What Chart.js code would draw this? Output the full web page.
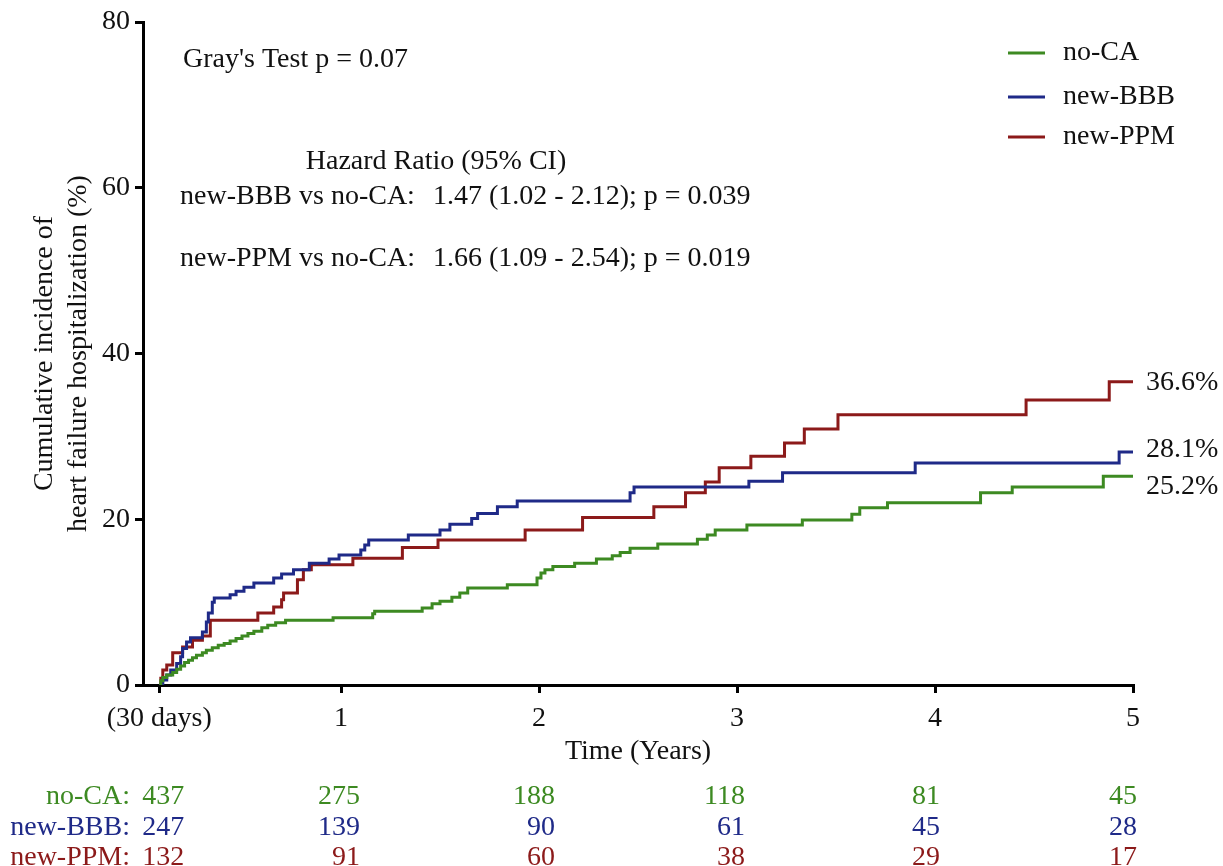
<!DOCTYPE html>
<html>
<head>
<meta charset="utf-8">
<script src="https://cdn.jsdelivr.net/npm/chart.js@4.4.1/dist/chart.umd.min.js"></script>
<style>
  html, body { margin: 0; padding: 0; background: #fff; }
  #wrap { width: 1223px; height: 866px; position: relative; }
</style>
</head>
<body>
<div id="wrap"><canvas id="c" width="1223" height="866"></canvas></div>
<script>
// ---------- DATA ----------
const seriesNames = ['no-CA', 'new-BBB', 'new-PPM'];
const xTickValues = [30 / 365, 1, 2, 3, 4, 5];
const xTickLabels = ['(30 days)', '1', '2', '3', '4', '5'];
const yTickValues = [0, 20, 40, 60, 80];

// time (years), cumulative incidence (%)
const noCA = [
  [0.082,0],[0.09,0.5],[0.10,0.9],[0.12,1.2],[0.15,1.5],[0.17,1.9],[0.19,2.3],[0.21,2.7],[0.23,3.0],
  [0.25,3.3],[0.27,3.6],[0.30,3.9],[0.32,4.2],[0.35,4.5],[0.38,4.8],[0.41,5.0],[0.44,5.3],[0.47,5.6],
  [0.50,5.9],[0.53,6.2],[0.56,6.5],[0.60,6.9],[0.63,7.2],[0.67,7.5],[0.72,7.8],[0.96,8.1],[1.16,8.6],
  [1.17,8.9],[1.41,9.3],[1.46,9.8],[1.50,10.1],[1.56,10.6],[1.60,11.1],[1.64,11.7],[1.84,12.1],
  [1.99,12.9],[2.01,13.5],[2.03,13.9],[2.07,14.3],[2.18,14.7],[2.29,15.2],[2.37,15.6],[2.41,16.0],
  [2.46,16.5],[2.60,17.0],[2.80,17.6],[2.85,18.1],[2.89,18.7],[3.05,19.3],[3.33,19.9],[3.58,20.6],
  [3.62,21.4],[3.76,22.0],[4.23,23.2],[4.39,23.9],[4.85,25.2],[5.0,25.2]
];
const newBBB = [
  [0.082,0],[0.10,0.6],[0.12,1.2],[0.14,1.8],[0.17,2.6],[0.19,3.4],[0.20,4.4],[0.22,5.2],[0.24,5.7],
  [0.30,6.4],[0.32,7.6],[0.33,8.7],[0.35,10.0],[0.36,10.5],[0.44,10.9],[0.47,11.3],[0.51,11.8],
  [0.56,12.3],[0.66,12.9],[0.70,13.4],[0.76,13.9],[0.84,14.7],[0.94,15.2],[0.99,15.7],[1.10,16.3],
  [1.12,16.9],[1.14,17.5],[1.34,18.1],[1.50,18.7],[1.55,19.4],[1.66,20.1],[1.69,20.7],[1.79,21.5],
  [1.89,22.2],[2.46,23.2],[2.48,23.9],[3.06,24.6],[3.23,25.6],[3.90,26.8],[4.93,28.1],[5.0,28.1]
];
const newPPM = [
  [0.082,0],[0.09,0.8],[0.10,1.8],[0.12,2.4],[0.15,3.9],[0.20,4.6],[0.25,5.4],[0.30,5.9],[0.34,7.8],
  [0.58,8.7],[0.66,9.4],[0.70,10.3],[0.71,11.1],[0.78,12.7],[0.81,13.9],[0.85,14.5],[1.06,15.3],
  [1.31,16.6],[1.49,17.5],[1.93,18.7],[2.22,20.2],[2.58,21.5],[2.74,23.2],[2.84,24.5],[2.91,26.2],
  [3.07,27.6],[3.24,29.2],[3.34,30.9],[3.51,32.6],[4.46,34.4],[4.88,36.6],[5.0,36.6]
];
const endLabels = ['25.2%', '28.1%', '36.6%'];

// numbers at risk
const riskNoCA = [437, 275, 188, 118, 81, 45];
const riskBBB = [247, 139, 90, 61, 45, 28];
const riskPPM = [132, 91, 60, 38, 29, 17];

const grayText = "Gray's Test p = 0.07";
const hrTitle = 'Hazard Ratio (95% CI)';
const hrLabels = ['new-BBB vs no-CA:', 'new-PPM vs no-CA:'];
const hrValues = ['1.47 (1.02 - 2.12); p = 0.039', '1.66 (1.09 - 2.54); p = 0.019'];

// ---------- STYLE ----------
const colors = ['#3d8a22', '#1f2a88', '#8c1a1a'];
const FONT = "'Liberation Serif', 'Times New Roman', serif";
const FS = 28;
const TXT = '#111';

const toXY = arr => arr.map(p => ({ x: p[0], y: p[1] }));
const seriesData = [noCA, newBBB, newPPM];
const riskRows = [riskNoCA, riskBBB, riskPPM];

const overlay = {
  id: 'overlay',
  afterDraw(chart) {
    const ctx = chart.ctx;
    const xs = chart.scales.x, ys = chart.scales.y;
    ctx.save();
    ctx.font = FS + 'px ' + FONT;
    ctx.textBaseline = 'middle';
    ctx.fillStyle = TXT;
    // Gray's test
    ctx.textAlign = 'left';
    ctx.fillText(grayText, 183, 60);
    // Hazard ratio block
    ctx.textAlign = 'center';
    ctx.fillText(hrTitle, 436, 162);
    ctx.textAlign = 'left';
    const hrY = [197, 259];
    hrLabels.forEach((l, i) => {
      ctx.fillText(l, 180, hrY[i]);
      ctx.fillText(hrValues[i], 433, hrY[i]);
    });
    // Legend
    const legY = [53, 97, 137];
    seriesNames.forEach((n, i) => {
      ctx.strokeStyle = colors[i];
      ctx.lineWidth = 3;
      ctx.beginPath();
      ctx.moveTo(1008, legY[i]);
      ctx.lineTo(1045, legY[i]);
      ctx.stroke();
      ctx.fillStyle = TXT;
      ctx.fillText(n, 1063, legY[i]);
    });
    // End labels
    const endOff = [10, -2, 1];
    seriesData.forEach((s, i) => {
      const last = s[s.length - 1];
      ctx.fillStyle = TXT;
      ctx.textAlign = 'left';
      ctx.fillText(endLabels[i], xs.getPixelForValue(last[0]) + 13, ys.getPixelForValue(last[1]) + endOff[i]);
    });
    // Risk table
    const rowY = [797, 828, 858];
    const colOff = [25, 19, 16, 8, 5, 4];
    riskRows.forEach((row, r) => {
      ctx.fillStyle = colors[r];
      ctx.textAlign = 'right';
      ctx.fillText(seriesNames[r] + ':', 130, rowY[r]);
      row.forEach((v, c) => {
        ctx.fillText(String(v), xs.getPixelForValue(xTickValues[c]) + colOff[c], rowY[r]);
      });
    });
    ctx.restore();
  }
};

new Chart(document.getElementById('c'), {
  type: 'line',
  data: {
    datasets: seriesData.map((s, i) => ({
      label: seriesNames[i],
      data: toXY(s),
      borderColor: colors[i],
      backgroundColor: colors[i],
      borderWidth: 3,
      pointRadius: 0,
      stepped: 'before',
      fill: false,
      tension: 0
    }))
  },
  options: {
    responsive: false,
    animation: false,
    devicePixelRatio: 1,
    layout: { padding: { left: 0, right: 90, top: 22, bottom: 97 } },
    plugins: { legend: { display: false }, tooltip: { enabled: false } },
    scales: {
      x: {
        type: 'linear',
        min: 0,
        max: 5,
        afterBuildTicks: s => { s.ticks = xTickValues.map(v => ({ value: v })); },
        afterFit: s => { s.height = 84; },
        ticks: {
          autoSkip: false,
          maxRotation: 0,
          padding: 9,
          color: TXT,
          font: { family: FONT, size: FS },
          callback: (v, i) => xTickLabels[i]
        },
        grid: { display: true, drawOnChartArea: false, drawTicks: true, tickLength: 8, color: '#000', lineWidth: 3 },
        border: { display: true, color: '#000', width: 3 },
        title: { display: true, text: 'Time (Years)', color: TXT, font: { family: FONT, size: FS }, padding: { top: 0, bottom: 1 } }
      },
      y: {
        type: 'linear',
        min: 0,
        max: 80,
        afterBuildTicks: s => { s.ticks = yTickValues.map(v => ({ value: v })); },
        afterFit: s => { s.width = 143; },
        ticks: { padding: 5, color: TXT, font: { family: FONT, size: FS } },
        grid: { display: true, drawOnChartArea: false, drawTicks: true, tickLength: 8, color: '#000', lineWidth: 3 },
        border: { display: true, color: '#000', width: 3 },
        title: {
          display: true,
          text: ['Cumulative incidence of', 'heart failure hospitalization (%)'],
          color: TXT,
          font: { family: FONT, size: FS },
          padding: { top: 28, bottom: 0 }
        }
      }
    }
  },
  plugins: [overlay]
});
</script>
</body>
</html>
